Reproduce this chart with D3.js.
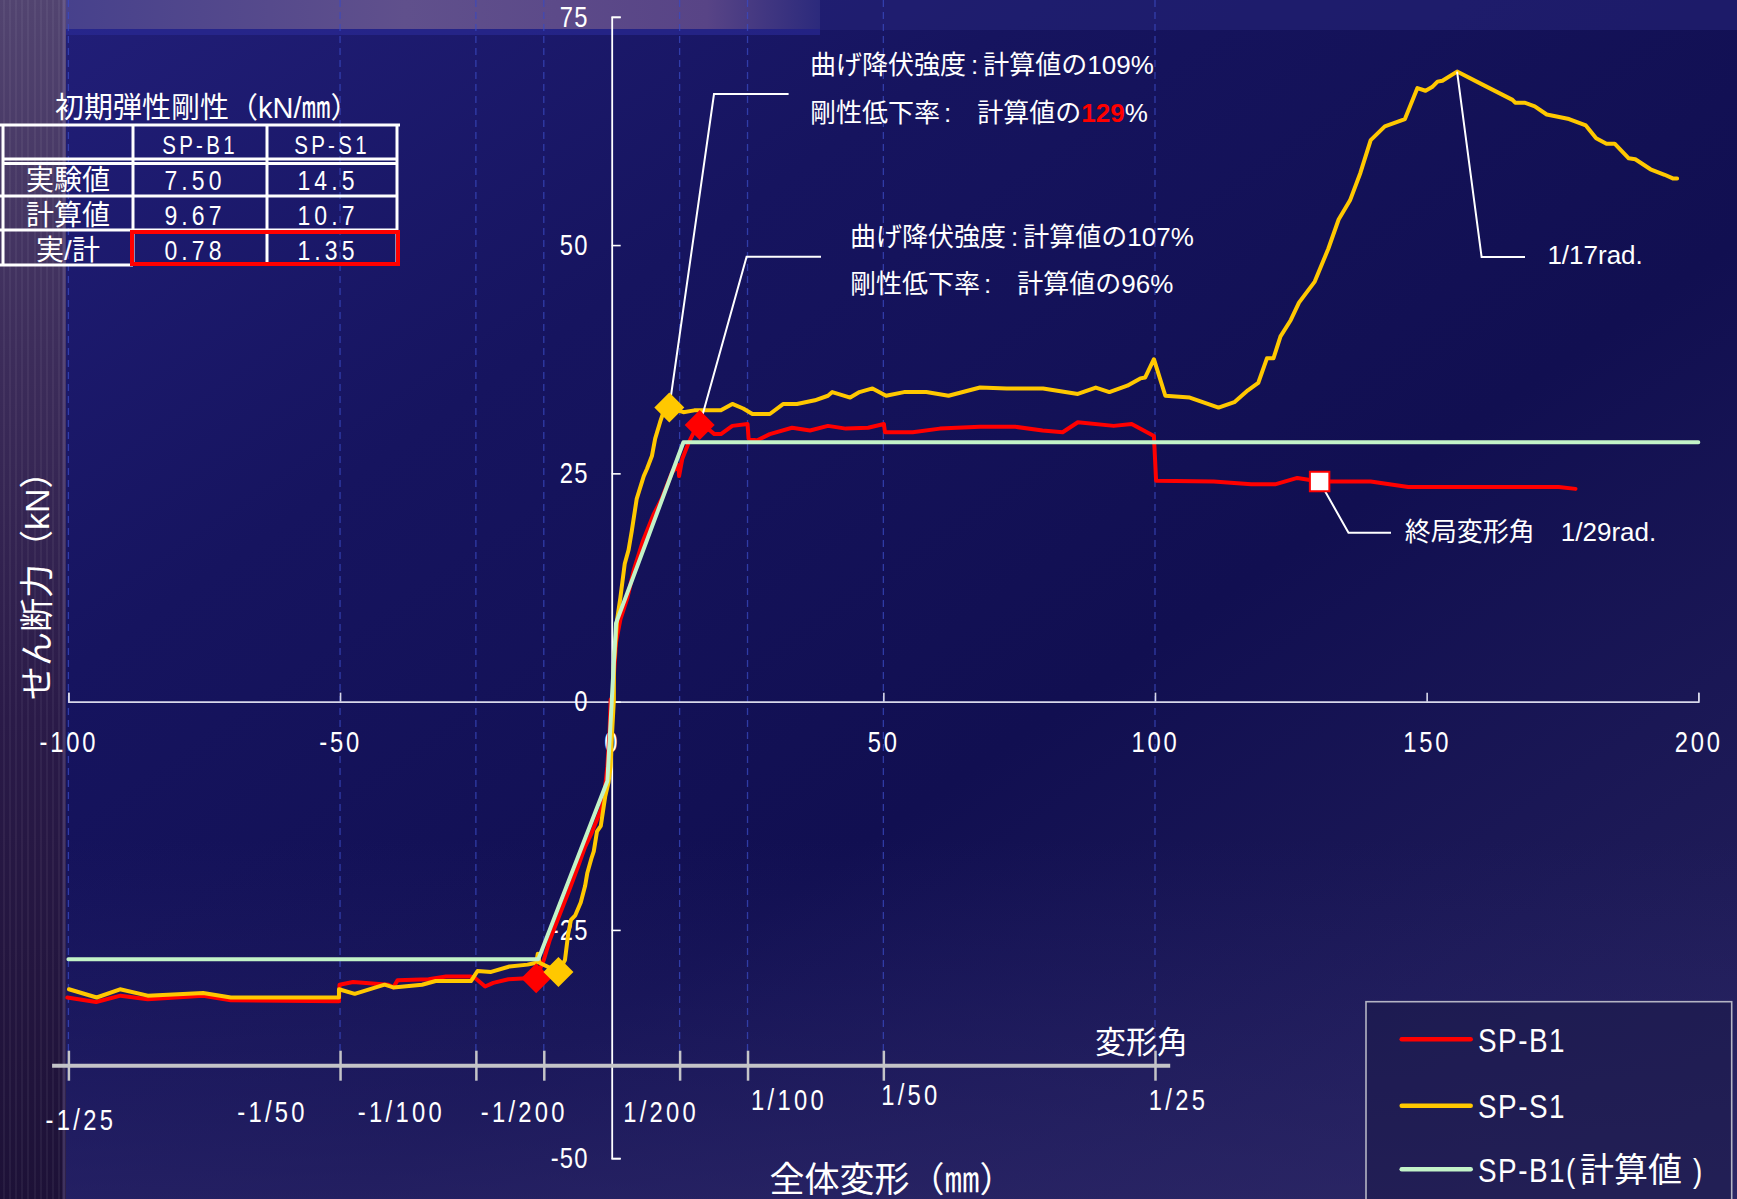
<!DOCTYPE html>
<html>
<head>
<meta charset="utf-8">
<script src="https://cdn.jsdelivr.net/npm/d3@7"></script>
<style>
  html, body { margin: 0; padding: 0; background: #14125a; overflow: hidden; }
  svg { display: block; }
</style>
</head>
<body>
<svg id="chart" width="1737" height="1199"></svg>
<script>
// ---- data: shear force (kN) vs. total deformation (mm) ----
const spB1 = [
  [-100.2,-32.4],[-94.9,-32.9],[-90.4,-32.2],[-85.4,-32.6],[-75.2,-32.2],[-70.1,-32.7],[-50.2,-32.8],
  [-50.1,-31.0],[-47.6,-30.7],[-41.1,-31.0],[-40.2,-31.3],[-39.4,-30.5],[-33.7,-30.4],[-30.5,-30.1],
  [-25.9,-30.1],[-25.1,-30.3],[-23.3,-31.2],[-21.8,-30.8],[-19.0,-30.4],[-15.6,-30.3],[-13.9,-30.3],
  [-12.5,-28.3],[-11.4,-26.1],[-9.5,-23.2],[-7.6,-20.3],[-6.1,-17.9],[-4.9,-15.9],[-3.7,-14.4],
  [-2.7,-12.9],[-1.8,-11.5],[-1.2,-9.3],[-0.8,-7.1],[-0.4,-3.4],[-0.2,0.2],
  [0.2,0.5],[0.4,2.9],[0.8,6.5],[1.6,9.0],[2.9,11.4],[4.1,14.5],[5.7,17.5],[7.7,20.5],[9.2,22.2],
  [11.1,25.1],[12.3,25.9],[12.4,24.7],[13.0,26.6],[14.2,28.4],[15.1,29.5],[16.2,30.3],[18.1,29.7],
  [18.9,29.3],[20.1,29.3],[22.2,30.2],[25.0,30.4],[25.2,28.8],[26.7,28.6],[29.1,29.3],[33.2,30.0],
  [36.5,29.7],[39.8,30.2],[43.1,29.9],[47.2,30.0],[50.1,30.4],[50.3,29.5],[55.4,29.5],[60.4,29.9],
  [67.8,30.1],[74.3,30.1],[79.3,29.7],[83.0,29.5],[85.8,30.6],[92.4,30.2],[95.7,30.4],[99.8,29.1],
  [100.2,24.2],[110.8,24.1],[117.7,23.8],[122.1,23.8],[126.2,24.5],[130.3,24.1],[139.7,24.1],
  [146.6,23.5],[174.3,23.5],[177.4,23.3]
];
const spS1 = [
  [-99.9,-31.5],[-94.8,-32.4],[-90.5,-31.5],[-85.4,-32.2],[-75.2,-31.9],[-70.1,-32.4],[-50.2,-32.4],
  [-50.2,-31.5],[-47.3,-32.0],[-41.8,-31.0],[-40.2,-31.3],[-34.9,-31.0],[-32.4,-30.6],[-29.6,-30.6],
  [-25.9,-30.6],[-24.7,-29.5],[-22.2,-29.6],[-18.8,-29.0],[-15.5,-28.8],[-13.9,-28.6],[-13.6,-27.6],
  [-13.3,-28.6],[-9.8,-29.6],[-8.6,-28.3],[-8.0,-25.4],[-7.5,-23.9],[-6.7,-23.4],[-5.7,-22.0],
  [-4.9,-20.2],[-4.5,-18.8],[-3.7,-17.1],[-3.3,-16.4],[-2.7,-14.2],[-2.0,-13.6],[-1.2,-10.4],
  [-0.6,-8.9],[-0.2,-7.1],[0.0,-4.2],[0.4,0.2],
  [0.4,4.1],[1.0,9.0],[1.6,11.4],[2.4,15.1],[3.1,16.6],[3.7,18.7],[4.6,22.2],[5.9,24.7],[6.5,25.5],
  [7.4,26.9],[8.0,28.8],[8.9,30.6],[9.4,31.5],[10.6,32.2],[13.2,31.7],[15.2,31.9],[20.1,31.9],
  [22.2,32.6],[24.2,32.1],[25.9,31.5],[29.1,31.5],[31.6,32.6],[34.1,32.6],[37.4,33.0],[39.8,33.5],
  [40.6,33.9],[43.9,33.3],[45.6,33.9],[48.0,34.3],[50.5,33.5],[53.8,33.9],[57.9,33.9],[62.0,33.5],
  [67.8,34.4],[72.7,34.3],[79.4,34.3],[85.8,33.7],[89.1,34.4],[91.6,33.9],[94.9,34.6],[97.3,35.4],
  [98.2,35.5],[99.8,37.5],[101.9,33.5],[106.4,33.3],[111.7,32.2],[114.6,32.8],[117.1,34.1],
  [119.0,34.9],[120.6,37.6],[121.8,37.6],[123.1,40.0],[125.0,41.8],[126.5,43.7],[129.4,46.0],
  [131.9,49.6],[133.8,52.8],[135.9,54.9],[137.8,57.9],[139.7,61.5],[142.3,63.0],[146.0,63.8],
  [148.3,67.2],[149.8,66.9],[151.0,67.3],[152.0,67.9],[152.9,68.0],[155.6,69.0],[160.2,67.6],
  [165.8,65.9],[166.3,65.6],[168.0,65.6],[169.9,65.2],[172.1,64.3],[176.2,63.8],[179.3,63.1],
  [181.2,61.7],[183.1,61.1],[184.6,61.1],[187.2,59.5],[188.4,59.4],[191.2,58.3],[193.8,57.7],
  [195.3,57.3],[196.1,57.3]
];
const spB1Calc = [[-100,-28.2],[-13.5,-28.2],[-0.8,-8.7],[0,0],[0.8,8.6],[13.2,28.4],[200,28.4]];

// flexural yield points and the marked ultimate / peak points
const yieldB1 = [[16.2,30.3],[-13.9,-30.3]];
const yieldS1 = [[10.6,32.2],[-9.8,-29.6]];
const ultimateB1 = [130.3,24.1];
const peakS1 = [155.6,69.0];

// annotation figures (% of calculated value)
const strengthPct = [109, 107];   // SP-S1, SP-B1
const stiffnessPct = [129, 96];   // SP-S1, SP-B1

// initial elastic stiffness table
const stiffCols = ['SP-B1', 'SP-S1'];
const stiffRows = ['実験値', '計算値', '実/計'];
const stiffVals = [['7.50', '14.5'], ['9.67', '10.7'], ['0.78', '1.35']];

// axes
const xTicks = [-100, -50, 0, 50, 100, 150, 200];
const yTicks = [75, 50, 25, 0, -25, -50];
const angleMm = [-100, -50, -25, -12.5, 12.5, 25, 50, 100];
const angleLabels = ['-1/25', '-1/50', '-1/100', '-1/200', '1/200', '1/100', '1/50', '1/25'];

const seriesNames = ['SP-B1', 'SP-S1', 'SP-B1(計算値)'];
const seriesColors = ['#ff0000', '#ffc800', '#c3f3c8'];

// ---- drawing ----
const W = 1737, H = 1199;
const JP = "'Noto Sans CJK JP', 'Noto Sans CJK SC', sans-serif";
const SANS = "'Liberation Sans', Arial, 'Noto Sans CJK JP', sans-serif";
const NARROW_K = 0.82;   // horizontal squeeze for the condensed numerals

// squeeze text horizontally around its own anchor point
function narrow(sel, k = NARROW_K) {
  sel.each(function () {
    const t = d3.select(this);
    const tx = +(t.attr('x') || 0), ty = +(t.attr('y') || 0);
    t.attr('x', null).attr('y', null)
      .attr('transform', `translate(${tx},${ty}) scale(${k},1)`);
  });
}

const svg = d3.select('#chart');
const defs = svg.append('defs');

function linGrad(id, x1, y1, x2, y2, stops) {
  const g = defs.append('linearGradient').attr('id', id)
    .attr('x1', x1).attr('y1', y1).attr('x2', x2).attr('y2', y2);
  stops.forEach(s => g.append('stop').attr('offset', s[0]).attr('stop-color', s[1])
    .attr('stop-opacity', s[2] === undefined ? 1 : s[2]));
}
linGrad('bgMain', 0, 0, 1, 1, [[0, '#221f7a'], [0.3, '#16145f'], [0.6, '#110f51'], [1, '#25215a']]);
linGrad('bgBottom', 0, 0, 0, 1, [[0, '#2c2870', 0], [0.7, '#2c2870', 0], [1, '#322c6e', 0.55]]);
linGrad('topBand', 0, 0, 1, 0, [[0, '#47418c'], [0.45, '#60508c'], [0.85, '#584486'], [1, '#2c2a7c']]);
linGrad('leftStrip', 0, 0, 0, 1, [[0, '#524470'], [0.3, '#3c2c5a'], [0.6, '#2a1a48'], [1, '#1d1137']]);

// background
svg.append('rect').attr('width', W).attr('height', H).attr('fill', 'url(#bgMain)');
svg.append('rect').attr('width', W).attr('height', H).attr('fill', 'url(#bgBottom)');
svg.append('rect').attr('x', 820).attr('y', 0).attr('width', W - 820).attr('height', 30)
  .attr('fill', '#26257a').attr('opacity', 0.55);
svg.append('rect').attr('x', 66).attr('y', 0).attr('width', 754).attr('height', 29).attr('fill', 'url(#topBand)');
svg.append('rect').attr('x', 66).attr('y', 29).attr('width', 754).attr('height', 6)
  .attr('fill', '#2b2c9a').attr('opacity', 0.6);
svg.append('rect').attr('x', 0).attr('y', 0).attr('width', 66).attr('height', H).attr('fill', 'url(#leftStrip)');
[4, 10, 16, 22, 28, 35, 41, 47, 53, 59].forEach(sx => {
  svg.append('line').attr('x1', sx).attr('x2', sx).attr('y1', 0).attr('y2', H)
    .attr('stroke', '#ffffff').attr('stroke-opacity', 0.05).attr('stroke-width', 2);
});
svg.append('line').attr('x1', 64).attr('x2', 64).attr('y1', 0).attr('y2', H)
  .attr('stroke', '#a898d0').attr('stroke-opacity', 0.25).attr('stroke-width', 3);

// scales
const x = d3.scaleLinear().domain([-100, 200]).range([68.4, 1698.3]);
const y = d3.scaleLinear().domain([-50, 75]).range([1158.2, 16.8]);

// deformation-angle grid (dashed)
const angleAxisY = 1065.7;
svg.append('g').selectAll('line').data(angleMm).join('line')
  .attr('x1', d => x(d)).attr('x2', d => x(d))
  .attr('y1', 0).attr('y2', angleAxisY - 15)
  .attr('stroke', '#3a4ac0').attr('stroke-opacity', 0.75)
  .attr('stroke-width', 1.3).attr('stroke-dasharray', '7,5');

const fmtNum = d => (d < 0 ? '-' + Math.abs(d) : String(d));

// x axis (mm)
const gx = svg.append('g').attr('transform', `translate(0,${y(0)})`)
  .call(d3.axisBottom(x).tickValues(xTicks).tickFormat(fmtNum)
    .tickSize(-9).tickSizeOuter(-9).tickPadding(30));
gx.select('.domain').attr('stroke', '#d8d8ea').attr('stroke-width', 1.6);
gx.selectAll('.tick line').attr('stroke', '#d8d8ea').attr('stroke-width', 1.6);
gx.selectAll('.tick text').attr('fill', '#ffffff').attr('font-size', 29)
  .attr('font-family', SANS).attr('letter-spacing', 3.4).call(narrow);

// y axis (kN)
const gy = svg.append('g').attr('transform', `translate(${x(0)},0)`)
  .call(d3.axisLeft(y).tickValues(yTicks).tickFormat(fmtNum)
    .tickSize(-9).tickSizeOuter(-9).tickPadding(23));
gy.select('.domain').attr('stroke', '#ffffff').attr('stroke-width', 1.8);
gy.selectAll('.tick line').attr('stroke', '#ffffff').attr('stroke-width', 1.6);
gy.selectAll('.tick text').attr('fill', '#ffffff').attr('font-size', 29)
  .attr('font-family', SANS).attr('letter-spacing', 1.5).call(narrow);

// deformation-angle axis
const angleLabelPos = [[12, 64], [-68, 56], [-75, 56], [-20, 56], [-19, 56], [41, 44], [27, 39], [23, 44]];
const ga = svg.append('g').attr('transform', `translate(0,${angleAxisY})`)
  .call(d3.axisBottom(x).tickValues(angleMm).tickFormat((d, i) => angleLabels[i]).tickSize(15));
ga.select('.domain').remove();
ga.insert('line', ':first-child').attr('x1', x(-103)).attr('x2', x(102.8)).attr('y1', 0).attr('y2', 0)
  .attr('stroke', '#c4c4c8').attr('stroke-width', 4);
ga.selectAll('.tick line').attr('y1', -15).attr('y2', 15)
  .attr('stroke', '#c4c4c8').attr('stroke-width', 2.5);
ga.selectAll('.tick text')
  .attr('x', (d, i) => angleLabelPos[i][0]).attr('y', (d, i) => angleLabelPos[i][1]).attr('dy', null)
  .attr('fill', '#ffffff').attr('font-size', 29).attr('font-family', SANS).attr('letter-spacing', 4)
  .call(narrow);
svg.append('text').attr('x', 1095).attr('y', 1042).attr('dy', '0.37em')
  .attr('fill', '#ffffff').attr('font-size', 31).attr('font-family', JP).text('変形角');

// axis titles
svg.append('text').attr('x', 769.6).attr('y', 1179).attr('dy', '0.37em')
  .attr('fill', '#ffffff').attr('font-size', 35).attr('font-family', SANS).text('全体変形（㎜）');
svg.append('text').attr('transform', 'translate(36,700) rotate(-90)').attr('dy', '0.37em')
  .attr('fill', '#ffffff').attr('font-size', 34).attr('font-family', SANS).text('せん断力（kN）');

// curves
const line = d3.line().x(d => x(d[0])).y(d => y(d[1]));
const curves = [spB1, spS1, spB1Calc];
svg.append('g').selectAll('path').data(curves).join('path')
  .attr('d', line).attr('fill', 'none')
  .attr('stroke', (d, i) => seriesColors[i]).attr('stroke-width', 4)
  .attr('stroke-linejoin', 'round').attr('stroke-linecap', 'round');

// annotation leaders
const leaders = [
  [[x(yieldS1[0][0]), y(yieldS1[0][1])], [714, 94], [788.6, 94]],
  [[x(yieldB1[0][0]), y(yieldB1[0][1])], [746.6, 256.7], [821, 256.7]],
  [[x(peakS1[0]), y(peakS1[1])], [1481.6, 257], [1525, 257]],
  [[x(ultimateB1[0]), y(ultimateB1[1])], [1348.5, 532.7], [1391, 532.7]]
];
svg.append('g').selectAll('path').data(leaders).join('path')
  .attr('d', d => d3.line()(d)).attr('fill', 'none')
  .attr('stroke', '#ffffff').attr('stroke-width', 2);

// yield markers (diamonds)
const diamond = d3.symbol().type(d3.symbolSquare).size(450);
const markerSets = [[yieldB1, seriesColors[0]], [yieldS1, seriesColors[1]]];
markerSets.forEach(([pts, col]) => {
  svg.append('g').selectAll('path').data(pts).join('path')
    .attr('d', diamond)
    .attr('transform', d => `translate(${x(d[0])},${y(d[1])}) rotate(45)`)
    .attr('fill', col);
});
// ultimate deformation marker
svg.append('path').attr('d', d3.symbol().type(d3.symbolSquare).size(380))
  .attr('transform', `translate(${x(ultimateB1[0])},${y(ultimateB1[1])})`)
  .attr('fill', '#ffffff').attr('stroke', '#ff0000').attr('stroke-width', 2);

// annotation texts
function note(xp, yp, parts) {
  const t = svg.append('text').attr('x', xp).attr('y', yp).attr('dy', '0.37em')
    .attr('fill', '#ffffff').attr('font-size', 26).attr('font-family', SANS);
  parts.forEach(p => {
    const s = t.append('tspan').text(p.t);
    if (p.dx) s.attr('dx', p.dx);
    if (p.red) s.attr('fill', '#ff0000').attr('font-weight', 'bold');
  });
}
note(810, 64, [{ t: '曲げ降伏強度' }, { t: ':', dx: 5 }, { t: '計算値の' + strengthPct[0] + '%', dx: 5 }]);
note(810, 112, [{ t: '剛性低下率' }, { t: ':', dx: 4 }, { t: '計算値の', dx: 26 }, { t: String(stiffnessPct[0]), red: true }, { t: '%' }]);
note(850, 236, [{ t: '曲げ降伏強度' }, { t: ':', dx: 5 }, { t: '計算値の' + strengthPct[1] + '%', dx: 5 }]);
note(850, 283, [{ t: '剛性低下率' }, { t: ':', dx: 4 }, { t: '計算値の' + stiffnessPct[1] + '%', dx: 26 }]);
note(1547.4, 254, [{ t: '1/17rad.' }]);
note(1404.8, 531, [{ t: '終局変形角' }, { t: '1/29rad.', dx: 26 }]);

// stiffness table
const tbl = svg.append('g');
tbl.append('text').attr('x', 55).attr('y', 107.5).attr('dy', '0.37em')
  .attr('fill', '#ffffff').attr('font-size', 29).attr('font-family', SANS).text('初期弾性剛性（kN/㎜）');
const colX = [3, 133, 267, 397];
const wl = (x1, y1, x2, y2) => tbl.append('line').attr('x1', x1).attr('y1', y1).attr('x2', x2).attr('y2', y2)
  .attr('stroke', '#ffffff').attr('stroke-width', 3);
wl(0, 125, 400, 125);
wl(3, 159, 397, 159); wl(3, 163.5, 397, 163.5);
wl(0, 196, 397, 196); wl(0, 230, 397, 230); wl(0, 265, 133, 265);
colX.forEach(cx => wl(cx, 125, cx, 265));
tbl.append('rect').attr('x', 132).attr('y', 232).attr('width', 266).attr('height', 32)
  .attr('fill', 'none').attr('stroke', '#ff0000').attr('stroke-width', 4);
const colCenters = [200, 332];
const valCenters = [195, 328];
const rowCenters = [180, 215, 250];
stiffCols.forEach((c, j) => {
  tbl.append('text').attr('x', colCenters[j]).attr('y', 145).attr('dy', '0.36em')
    .attr('text-anchor', 'middle').attr('fill', '#ffffff').attr('font-size', 25)
    .attr('font-family', SANS).attr('letter-spacing', 4).text(c).call(narrow);
});
stiffRows.forEach((r, i) => {
  tbl.append('text').attr('x', 68).attr('y', rowCenters[i]).attr('dy', '0.37em')
    .attr('text-anchor', 'middle').attr('fill', '#ffffff').attr('font-size', 28)
    .attr('font-family', SANS).text(r);
  stiffVals[i].forEach((v, j) => {
    tbl.append('text').attr('x', valCenters[j]).attr('y', rowCenters[i]).attr('dy', '0.36em')
      .attr('text-anchor', 'middle').attr('fill', '#ffffff').attr('font-size', 28)
      .attr('font-family', SANS).attr('letter-spacing', 5).text(v).call(narrow);
  });
});

// legend
const lg = svg.append('g');
lg.append('rect').attr('x', 1366).attr('y', 1001.7).attr('width', 365.7).attr('height', 230)
  .attr('fill', '#1b1948').attr('fill-opacity', 0.55)
  .attr('stroke', '#b4b4c4').attr('stroke-width', 1.6);
const legendY = [1039.3, 1105.7, 1169.3];
seriesNames.forEach((n, i) => {
  lg.append('line').attr('x1', 1401.7).attr('x2', 1470.7).attr('y1', legendY[i]).attr('y2', legendY[i])
    .attr('stroke', seriesColors[i]).attr('stroke-width', 4.5).attr('stroke-linecap', 'round');
  // Latin part condensed, CJK part at normal width
  const m = n.match(/^([^\u3000-\u9fff]*)([\u3000-\u9fff]*)(.*)$/);
  lg.append('text').attr('x', 1478).attr('y', legendY[i]).attr('dy', '0.36em')
    .attr('fill', '#ffffff').attr('font-size', 34).attr('font-family', SANS)
    .attr('letter-spacing', 1.8).text(m[1]).call(narrow);
  if (m[2]) {
    lg.append('text').attr('x', 1580).attr('y', legendY[i]).attr('dy', '0.37em')
      .attr('fill', '#ffffff').attr('font-size', 34).attr('font-family', JP).text(m[2]);
    lg.append('text').attr('x', 1693).attr('y', legendY[i]).attr('dy', '0.36em')
      .attr('fill', '#ffffff').attr('font-size', 34).attr('font-family', SANS).text(m[3]).call(narrow);
  }
});
</script>
</body>
</html>
